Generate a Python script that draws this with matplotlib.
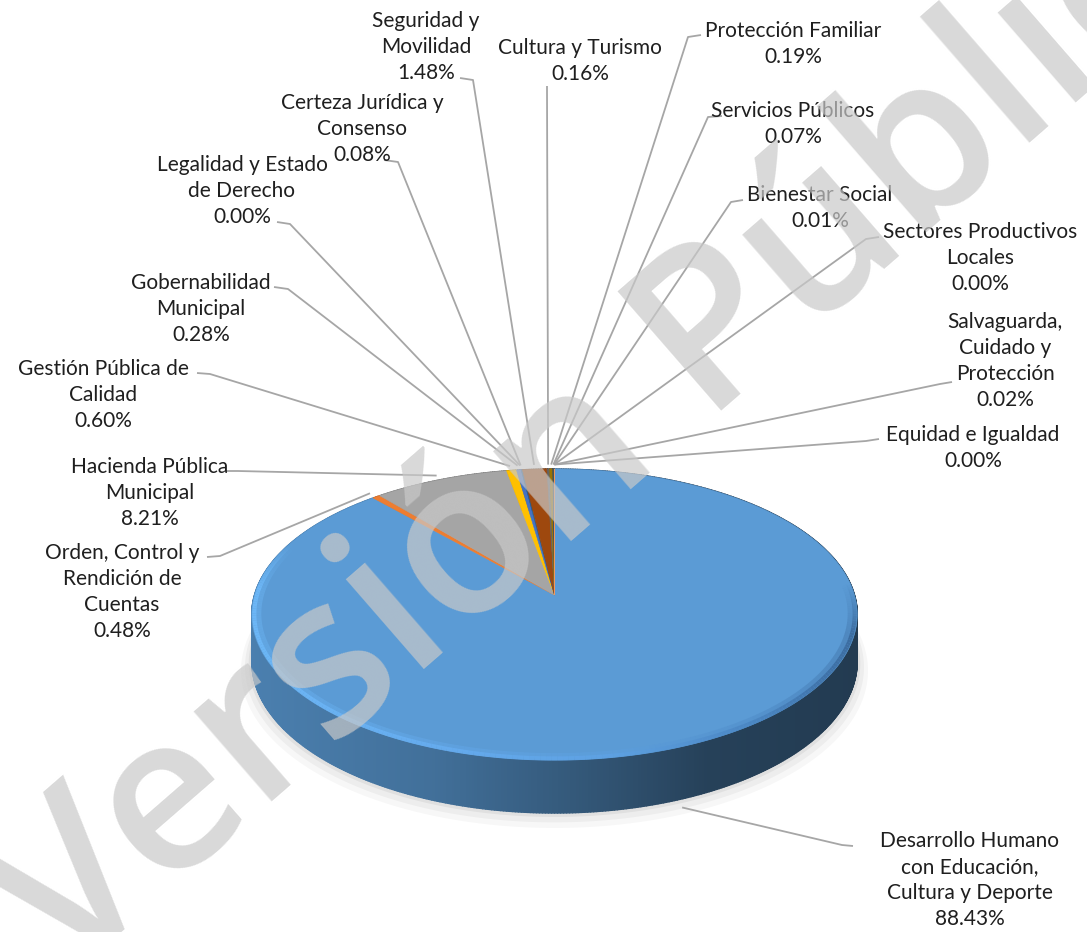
import numpy as np
import matplotlib
matplotlib.use('Agg')
import matplotlib.pyplot as plt
from matplotlib.colors import to_rgb
from matplotlib.collections import PolyCollection, LineCollection

# categories (clockwise from 12 o'clock) and their shares in %
names = [
    'Desarrollo Humano\ncon Educación,\nCultura y Deporte',
    'Orden, Control y\nRendición de\nCuentas',
    'Hacienda Pública\nMunicipal',
    'Gestión Pública de\nCalidad',
    'Gobernabilidad\nMunicipal',
    'Legalidad y Estado\nde Derecho',
    'Certeza Jurídica y\nConsenso',
    'Seguridad y\nMovilidad',
    'Cultura y Turismo',
    'Protección Familiar',
    'Servicios Públicos',
    'Bienestar Social',
    'Sectores Productivos\nLocales',
    'Salvaguarda,\nCuidado y\nProtección',
    'Equidad e Igualdad',
]
values = [88.43, 0.48, 8.21, 0.60, 0.28, 0.00, 0.08, 1.48, 0.16, 0.19, 0.07, 0.01, 0.00, 0.02, 0.00]

colors = ['#5B9BD5', '#ED7D31', '#A5A5A5', '#FFC000', '#4472C4', '#70AD47', '#255E91',
          '#9E480E', '#636363', '#997300', '#264478', '#43682B', '#7CAFDD', '#F1975A', '#B7B7B7']

# label layout in pixels: centre x / first line y, and the short tick at the label
label_pos = [(970, 841), (122, 553), (150, 467), (103, 369), (201, 283), (242, 165),
             (362, 103), (426, 21), (580, 48), (793, 31), (793, 111), (820, 195),
             (980, 232), (1005, 322), (973, 435)]
tick_pos = [((853, 846), (842, 845)), ((207, 557), (220, 556)), ((226, 471), (238, 471)),
            ((197, 373), (210, 374)), ((274, 287), (288, 289)), ((277, 222), (290, 224)),
            ((384, 160), (398, 162)), ((460, 78), (473, 80)), ((547, 86), (547, 88)),
            ((701, 35), (688, 37)), ((722, 116), (708, 117)), ((743, 200), (731, 202)),
            ((879, 237), (866, 239)), ((952, 382), (940, 384)), ((879, 439), (866, 441))]

# 3d pie geometry (pixels), simple perspective of a tilted disc
CX, CY = 554.5, 595
A, B, K, H = 300, 142.9, 0.134, 45.9


def proj(theta, r=1.0, z=0.0):
    t = np.radians(theta)
    u = r * np.sin(t)
    v = r * np.cos(t)
    f = 1 / (1 + K * v)
    return CX + A * u * f, CY - B * v * f + z * H * f


fracs = np.array(values) / sum(values)
edges = np.concatenate([[0], np.cumsum(fracs)]) * 360

fig = plt.figure(figsize=(10.87, 9.32), dpi=100)
ax = fig.add_axes([0, 0, 1, 1])
ax.set_xlim(0, 1087)
ax.set_ylim(932, 0)
ax.axis('off')

# soft shadow under the pie
ths = np.linspace(0, 360, 361)
for grow, off, alpha in [(0.035, 8, 0.03), (0.022, 5, 0.04), (0.01, 2, 0.05)]:
    xs, ys = proj(ths, 1 + grow, 1.0)
    ax.fill(xs, ys + off, color='k', alpha=alpha, lw=0, zorder=1)


# side wall, shaded dark towards the right
def shade(x):
    t = np.clip((x - 252) / (857 - 252), 0, 1)
    return np.interp(t, [0, 0.3, 0.55, 0.75, 1], [0.82, 0.72, 0.56, 0.42, 0.38])


step = 0.5
polys, fcs = [], []
for th in np.arange(0, 360, step):
    i = min(np.searchsorted(edges, th + step / 2, side='right') - 1, len(values) - 1)
    x1, y1 = proj(th)
    x2, y2 = proj(th + step)
    x3, y3 = proj(th + step, z=1)
    x4, y4 = proj(th, z=1)
    polys.append([(x1, y1), (x2, y2), (x3, y3), (x4, y4)])
    c = np.array(to_rgb(colors[i])) * shade((x1 + x2) / 2)
    fcs.append(c)
ax.add_collection(PolyCollection(polys, facecolors=fcs, edgecolors=fcs, linewidths=1.0, zorder=2))

# top faces
for i, v in enumerate(values):
    if v <= 0:
        continue
    a, b = edges[i], edges[i + 1]
    tt = np.linspace(a, b, max(3, int((b - a) / 0.25)))
    xs, ys = proj(tt)
    xs = np.concatenate([[CX], xs])
    ys = np.concatenate([[CY], ys])
    ax.fill(xs, ys, color=colors[i], lw=0.4, ec=colors[i], zorder=3)

# bevel along the front rim: bright on the left, darker on the right
for rr, lw, al in [(0.992, 3.0, 0.85), (0.978, 4.0, 0.35)]:
    tt = np.linspace(85, 292, 220)
    xs, ys = proj(tt, rr)
    segs = [[(xs[j], ys[j]), (xs[j + 1], ys[j + 1])] for j in range(len(tt) - 1)]
    seg_cols = []
    for j in range(len(tt) - 1):
        t = np.clip((xs[j] - 252) / (857 - 252), 0, 1)
        r = np.interp(t, [0, 0.35, 0.6, 0.85, 1], [112, 102, 94, 72, 55])
        g = np.interp(t, [0, 0.35, 0.6, 0.85, 1], [188, 172, 162, 130, 100])
        bl = np.interp(t, [0, 0.35, 0.6, 0.85, 1], [252, 240, 228, 190, 150])
        fade = np.clip(min(tt[j] - 85, 292 - tt[j]) / 20, 0, 1)
        seg_cols.append((r / 255, g / 255, bl / 255, al * fade))
    ax.add_collection(LineCollection(segs, colors=seg_cols, linewidths=lw, zorder=4, capstyle='butt'))

# leader lines
for i in range(len(values)):
    mid = (edges[i] + edges[i + 1]) / 2
    if i == 0:
        ex, ey = proj(mid, 1.04, 1.0)
    else:
        ex, ey = proj(mid, 1.04)
    (sx, sy), (kx, ky) = tick_pos[i]
    ax.plot([sx, kx, ex], [sy, ky, ey], color='#A6A6A6', lw=1.3, zorder=5, solid_capstyle='butt')

# data labels
for i, name in enumerate(names):
    lines = name.split('\n') + [f'{values[i]:.2f}%']
    x0, y0 = label_pos[i]
    for j, line in enumerate(lines):
        ax.text(x0, y0 + j * 26, line, ha='center', va='center', fontsize=15,
                color='#1f1f1f', family='Lato', zorder=6)

# watermark
ax.text(638, 408, 'Versión Pública', rotation=41, rotation_mode='anchor',
        ha='center', va='center', fontsize=158, family='Open Sans', fontweight='semibold',
        color=(0.79, 0.79, 0.79), alpha=0.7, zorder=10)

fig.savefig('out.png', dpi=100, facecolor='white')
